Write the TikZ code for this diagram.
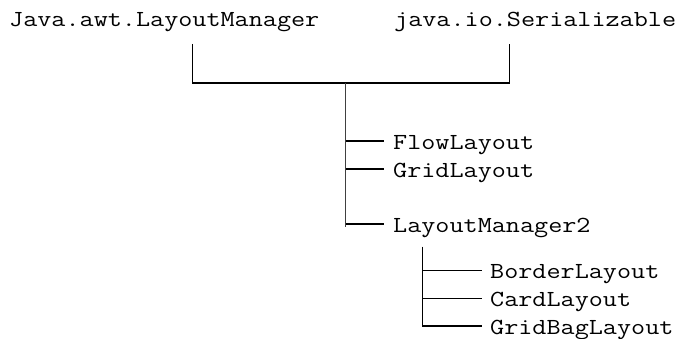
\documentclass[tikz,border=0pt]{standalone}
\usepackage{fontspec}
\usetikzlibrary{calc,positioning}

% widen Latin Modern Mono a little to the Courier pitch
\newcommand{\clsname}[1]{\scalebox{1.19}[1]{#1}}

\tikzset{
  cls/.style={font=\ttfamily\fontsize{23}{23}\selectfont, inner sep=0pt,
    text height=16.5pt, text depth=0pt},
  tree/.style={line width=1.5pt},
  trunk/.style={line width=1.3pt, black!75}
}

\begin{document}
\begin{tikzpicture}[x=1pt,y=-1pt]
\useasboundingbox (0,0) rectangle (690,339);
% interfaces
\node[cls, anchor=base west] (lm) at (9,26.5) {\clsname{Java.awt.LayoutManager}};
\node[cls, anchor=base west] (ser) at (394,26.5) {\clsname{java.io.Serializable}};
% bracket joining the interfaces
\coordinate (lmtop) at (192.5,44);
\coordinate (sertop) at (509.5,44);
\coordinate (serjoin) at (509.5,83);
\coordinate (mid) at (345.7,83);
\draw[tree] (lmtop) |- (serjoin) -- (sertop);

% first level
\coordinate (fj) at (345.7,141);
\coordinate (gj) at (345.7,169);
\coordinate (mj) at (345.7,224);
\coordinate (mend) at (345.7,226.5);
\node[cls, anchor=west] (flow) at (393,141) {\clsname{FlowLayout}};
\node[cls, anchor=west] (grid) at (393,169) {\clsname{GridLayout}};
\node[cls, anchor=west] (lm2) at (393,224) {\clsname{LayoutManager2}};
\draw[trunk] (mid) -- (mend);
\draw[tree, shorten >=9pt] (fj) -- (flow.west);
\draw[tree, shorten >=9pt] (gj) -- (grid.west);
\draw[tree, shorten >=9pt] (mj) -- (lm2.west);

% second level
\coordinate (t2top) at (422.7,246.7);
\coordinate (bj) at (422.7,270.5);
\coordinate (cj) at (422.7,298.5);
\node[cls, anchor=west] (border) at (490,270.5) {\clsname{BorderLayout}};
\node[cls, anchor=west] (card) at (490,298.5) {\clsname{CardLayout}};
\node[cls, anchor=west] (gridbag) at (490,326) {\clsname{GridBagLayout}};
\draw[tree, shorten >=8.5pt] (t2top) |- (gridbag.west);
\draw[tree, shorten >=8.5pt] (bj) -- (border.west);
\draw[tree, shorten >=8.5pt] (cj) -- (card.west);
\end{tikzpicture}
\end{document}
